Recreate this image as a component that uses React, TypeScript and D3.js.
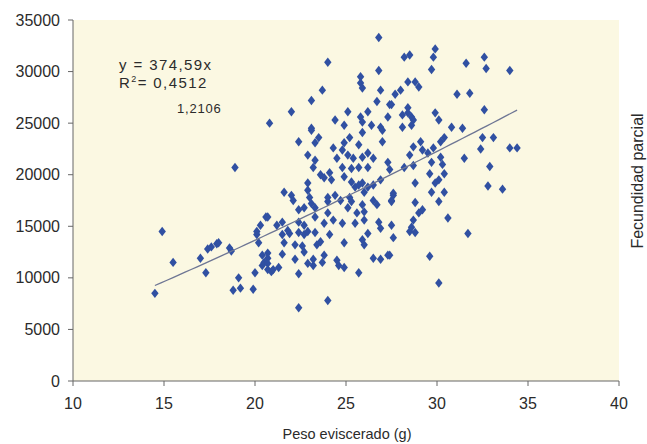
import React from "react";
import * as d3 from "d3";

// Peso eviscerado (g)
const pesoEviscerado: number[] = [
  14.5, 14.9, 15.5, 17.0, 17.3, 17.4, 17.6, 17.9, 18.0, 18.6, 18.7, 18.8, 19.1, 19.2, 19.9, 20.0, 20.1, 20.2, 20.4, 20.4,
  20.5, 20.7, 18.9, 20.6, 20.3, 20.1, 20.8,
  26.8, 24.0, 25.8, 25.8, 25.9, 26.8, 26.9, 23.7, 23.1, 26.7, 22.0, 25.1, 26.2, 27.4, 27.3, 24.4, 24.9, 25.8, 25.9, 26.4, 26.9, 23.1,
  29.9, 29.8, 28.2, 28.5, 29.7, 31.6, 32.6, 32.7, 34.0, 28.4, 28.8, 29.0, 28.0, 27.7, 31.1, 31.8, 27.5, 28.4, 28.4, 28.6, 28.7, 28.1,
  29.9, 30.1, 32.6, 28.1, 30.8, 31.4,
  28.6, 32.5, 33.1, 32.4, 34.0, 34.4, 29.1, 28.7, 30.2, 30.4, 29.8, 29.2, 29.5, 28.5, 30.2, 31.5, 28.7, 28.2, 29.7, 30.3, 32.9,
  27.4, 29.6, 30.4, 30.1, 29.9, 28.8, 32.8, 33.6, 29.7, 30.4, 27.6, 27.5, 30.1, 28.8, 29.2, 29.0, 30.6, 28.7, 28.6, 28.5, 28.8, 31.7,
  27.6, 29.6, 30.1, 27.4,
  22.4, 24.0, 22.4, 25.7, 20.9, 21.3, 20.7, 21.5, 22.2, 22.9, 23.2, 23.7, 23.8, 24.5, 24.6, 24.9, 26.5, 26.9, 27.3, 24.9,
  23.4, 23.6, 22.6, 22.7, 22.2, 21.6, 21.5, 20.7, 20.7, 26.0, 25.9, 24.1, 22.4, 22.7, 21.9, 26.2, 21.0, 23.2,
  23.1, 25.9, 27.0, 22.4, 23.5, 23.3, 25.2, 25.7, 24.9, 27.0, 24.3, 22.9, 24.8, 25.1, 25.4, 23.3, 23.2, 24.5, 25.9, 26.2,
  26.5, 27.3, 24.8, 25.3, 25.7, 26.2, 24.1, 24.2, 23.6, 23.8, 24.9, 25.3, 25.5, 25.7, 25.9, 26.2, 26.5, 26.0, 26.9, 27.6,
  27.5, 22.9, 22.9, 23.0, 21.6, 22.0, 22.1, 24.0, 24.0, 24.4, 24.7, 25.2, 23.1, 23.3, 22.7, 22.4, 25.3, 25.1, 25.9, 25.6,
  26.0, 26.5, 26.7, 20.7, 21.5, 21.2, 22.4, 22.7, 24.0, 24.3, 23.3, 23.8, 24.8, 25.5, 26.0, 26.8, 26.9, 27.5, 21.8, 22.9, 23.3,
];

// Fecundidad parcial
const fecundidadParcial: number[] = [
  8500, 14500, 11500, 11900, 10500, 12800, 13000, 13300, 13400, 12900, 12600, 8800, 10000, 9000, 8900, 10500, 14200, 13400, 12200, 11200,
  11500, 10800, 20700, 15900, 15100, 14500, 25000,
  33300, 30900, 29500, 28900, 28400, 30100, 28200, 28200, 27200, 27100, 26100, 26100, 26100, 26800, 25600, 25300, 24800, 25600, 25100, 24800, 24600, 24500,
  32200, 31400, 31400, 31600, 30200, 30800, 31400, 30300, 30100, 29000, 29000, 28500, 28200, 27800, 27800, 27900, 26800, 26500, 26000, 25600, 25300, 25800,
  26000, 25300, 26300, 24600, 24600, 24500,
  24800, 23600, 23600, 22500, 22600, 22600, 23200, 22700, 23200, 23600, 22600, 22400, 22100, 21900, 21700, 21600, 20900, 20700, 21200, 21000, 20800,
  20500, 20100, 20100, 19500, 19200, 19200, 18900, 18600, 18300, 18300, 18000, 17500, 17400, 17300, 16600, 16300, 15800, 15600, 14900, 14500, 14400, 14300,
  13900, 12100, 9500, 12200,
  7100, 7800, 10400, 10500, 10600, 11000, 11400, 12300, 11800, 11400, 11200, 11500, 12200, 11700, 11200, 11000, 11900, 11800, 12200, 13400,
  13200, 13500, 13100, 12500, 13200, 13400, 14200, 12400, 11900, 13200, 13700, 14200, 14400, 14200, 14300, 14300, 10800, 11800,
  24300, 24100, 24300, 23200, 23600, 23100, 23600, 22900, 23100, 23200, 22600, 21900, 22400, 21900, 21600, 21400, 20700, 21600, 21700, 22100,
  21600, 21200, 20700, 20600, 20700, 20700, 20200, 19500, 20000, 19700, 19800, 19300, 18800, 19000, 19200, 18800, 19000, 18300, 19500, 18200,
  17400, 19200, 18500, 17800, 18300, 18000, 17500, 17800, 17400, 18000, 17500, 17800, 17200, 16800, 16800, 16600, 17400, 16800, 17100, 16300,
  16400, 17500, 17100, 15900, 15400, 15100, 15400, 15100, 16300, 15600, 15900, 15300, 15300, 15300, 15600, 15400, 14800, 15100, 14600, 14500, 14400,
];

const xTicks: number[] = [10, 15, 20, 25, 30, 35, 40];
const yTicks: number[] = [0, 5000, 10000, 15000, 20000, 25000, 30000, 35000];

// Power trend line y = a * x^b, as drawn on the printed chart
const trendA = 367;
const trendB = 1.207;

const eqLine1 = "y = 374,59x";
const eqLine2a = "R";
const eqLine2b = "= 0,4512";
const eqExponent = "1,2106";
const xTitle = "Peso eviscerado (g)";
const yTitle = "Fecundidad parcial";

const W = 647;
const H = 444;
const plot = { left: 73, right: 619, top: 20, bottom: 381 };

const FONT = "'Liberation Sans', Arial, Helvetica, sans-serif";
const TEXT = "#2b2b2b";
const DOT = "#3050A2";
const DIAMOND = "M0,-4.7L3.7,0L0,4.7L-3.7,0Z";

export default function App() {
  const x = d3.scaleLinear().domain([10, 40]).range([plot.left, plot.right]);
  const y = d3.scaleLinear().domain([0, 35000]).range([plot.bottom, plot.top]);

  const points = pesoEviscerado.map((p, i) => ({ p, f: fecundidadParcial[i] }));
  const [xmin, xmax] = d3.extent(pesoEviscerado) as [number, number];
  const trendXs = d3.range(xmin, xmax + 0.001, (xmax - xmin) / 60);
  const line = d3
    .line<number>()
    .x((d) => x(d))
    .y((d) => y(trendA * Math.pow(d, trendB)));

  return (
    <svg
      width={W}
      height={H}
      style={{ position: "absolute", left: 0, top: 0, background: "#ffffff" }}
      fontFamily={FONT}
    >
      <rect
        x={plot.left}
        y={plot.top}
        width={plot.right - plot.left}
        height={plot.bottom - plot.top}
        fill="#FBF8E2"
      />
      {/* y axis */}
      <line x1={plot.left} x2={plot.left} y1={plot.top} y2={plot.bottom} stroke="#666" strokeWidth={1} />
      {yTicks.map((t) => (
        <g key={"y" + t}>
          <line x1={plot.left - 5} x2={plot.left} y1={y(t)} y2={y(t)} stroke="#666" />
          <text x={60} y={y(t)} dy="0.35em" textAnchor="end" fontSize={16} fill={TEXT}>
            {t}
          </text>
        </g>
      ))}
      {/* x axis */}
      <line x1={plot.left} x2={plot.right} y1={plot.bottom} y2={plot.bottom} stroke="#666" strokeWidth={1} />
      {xTicks.map((t) => (
        <g key={"x" + t}>
          <line x1={x(t)} x2={x(t)} y1={plot.bottom} y2={plot.bottom + 5} stroke="#666" />
          <text x={x(t)} y={403} dy="0.35em" textAnchor="middle" fontSize={16} fill={TEXT}>
            {t}
          </text>
        </g>
      ))}
      {/* points */}
      {points.map((d, i) => (
        <path key={i} d={DIAMOND} transform={`translate(${x(d.p)},${y(d.f)})`} fill={DOT} />
      ))}
      {/* trend */}
      <path d={line(trendXs) || ""} fill="none" stroke="#6E7694" strokeWidth={1.3} />
      {/* annotation */}
      <text x={119} y={70} fontSize={15} letterSpacing={1.4} fill={TEXT}>
        {eqLine1}
      </text>
      <text x={119} y={88} fontSize={15} letterSpacing={1.4} fill={TEXT}>
        {eqLine2a}
        <tspan fontSize={9} dy={-6}>2</tspan>
        <tspan dy={6}>{eqLine2b}</tspan>
      </text>
      <text x={177} y={113} fontSize={13} letterSpacing={0.8} fill={TEXT}>
        {eqExponent}
      </text>
      {/* titles */}
      <text x={347} y={434} dy="0.35em" textAnchor="middle" fontSize={14.5} fill={TEXT}>
        {xTitle}
      </text>
      <text
        transform={`translate(637,${181}) rotate(-90)`}
        textAnchor="middle"
        dy="0.35em"
        fontSize={16}
        fill={TEXT}
      >
        {yTitle}
      </text>
    </svg>
  );
}
